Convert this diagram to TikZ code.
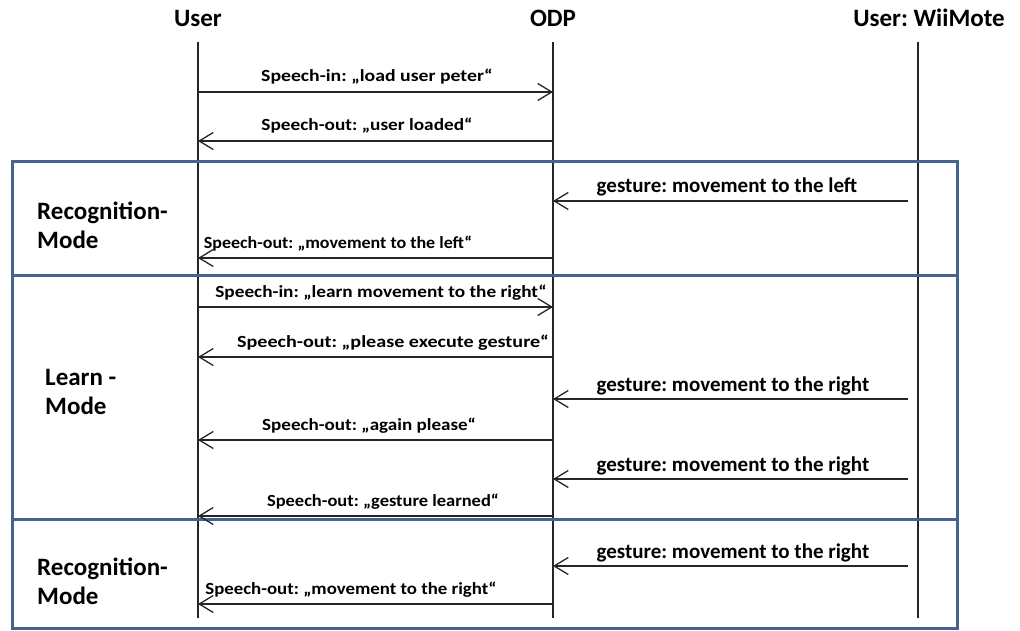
\documentclass[tikz,border=0pt]{standalone}
\usepackage{fontspec}
\setmainfont{Carlito}
\newfontfamily\speechfont[FakeStretch=1.13]{Carlito}
\usepackage{xcolor}
\usepackage{graphicx}
\usepackage{tikz}
\usetikzlibrary{arrows.meta}
\usetikzlibrary{positioning}
\definecolor{framecol}{RGB}{65,100,145}
\frenchspacing

\tikzset{
	lifeline/.style={line width=1.4pt,black!85},
	msg/.style={line width=1.3pt,black!85,-{Straight Barb[length=14pt,width=17pt,line width=1.3pt]}},
	modebox/.style={line width=3pt,framecol},
	head/.style={font=\fontsize{25}{30}\selectfont\bfseries},
	speechlbl/.style={anchor=base,inner sep=0pt,font=\speechfont\fontsize{17}{20}\selectfont\bfseries},
	gesturelbl/.style={anchor=base,inner sep=0pt,font=\fontsize{21}{24}\selectfont\bfseries},
	modelbl/.style={anchor=west,align=left,inner sep=0pt,font=\fontsize{25}{29}\selectfont\bfseries}
}

\begin{document}
\begin{tikzpicture}[x=1pt,y=-1pt]
	\useasboundingbox (0,0) rectangle (1020,631);
	% heads and lifelines
	\node[head] (user) at (198,18) {User};
	\node[head] (odp) at (553,18) {ODP};
	\node[head] (wii) at (929,18) {User: WiiMote};
	\foreach \n/\x in {user/198,odp/553,wii/918}{
		\coordinate (\n top) at (\x,42);
		\coordinate (\n bot) at (\x,618);
		\draw[lifeline] (\n top) -- (\n bot);
	}
	% mode frames
	\draw[modebox] (12,162) rectangle (957,275);
	\draw[modebox] (12,275) rectangle (957,519);
	\draw[modebox] (12,519) rectangle (957,628);
	\node[modelbl] (rec1) at (37,225) {Recognition-\\Mode};
	\node[modelbl] (learn) at (45,392) {Learn -\\Mode};
	\node[modelbl] (rec2) at (37,581) {Recognition-\\Mode};
	% speech messages
	\foreach \y/\a/\b/\lx/\sx/\txt in {
		92/198/553/377/1.028/{Speech-in: „load user peter“},
		141/553/198/367/1.004/{Speech-out: „user loaded“},
		258/553/198/338/0.937/{Speech-out: „movement to the left“},
		307/198/553/381/1.003/{Speech-in: „learn movement to the right“},
		357/553/198/393/1.047/{Speech-out: „please execute gesture“},
		440/553/198/369/0.993/{Speech-out: „again please“},
		516/553/198/383/0.961/{Speech-out: „gesture learned“},
		604/553/198/351/0.98/{Speech-out: „movement to the right“}}{
		\coordinate (src\y) at (\a,\y);
		\coordinate (dst\y) at (\b,\y);
		\draw[msg] (src\y) -- (dst\y);
		\node[speechlbl] (lbl\y) at (\lx,\y-10) {\scalebox{\sx}[1]{\txt}};
	}
	% gesture messages
	\foreach \y/\lx/\txt in {
		201/727/{gesture: movement to the left},
		399/733/{gesture: movement to the right},
		479/733/{gesture: movement to the right},
		566/733/{gesture: movement to the right}}{
		\coordinate (src\y) at (908,\y);
		\coordinate (dst\y) at (553,\y);
		\draw[msg] (src\y) -- (dst\y);
		\node[gesturelbl] (lbl\y) at (\lx,\y-8) {\txt};
	}
\end{tikzpicture}
\end{document}
